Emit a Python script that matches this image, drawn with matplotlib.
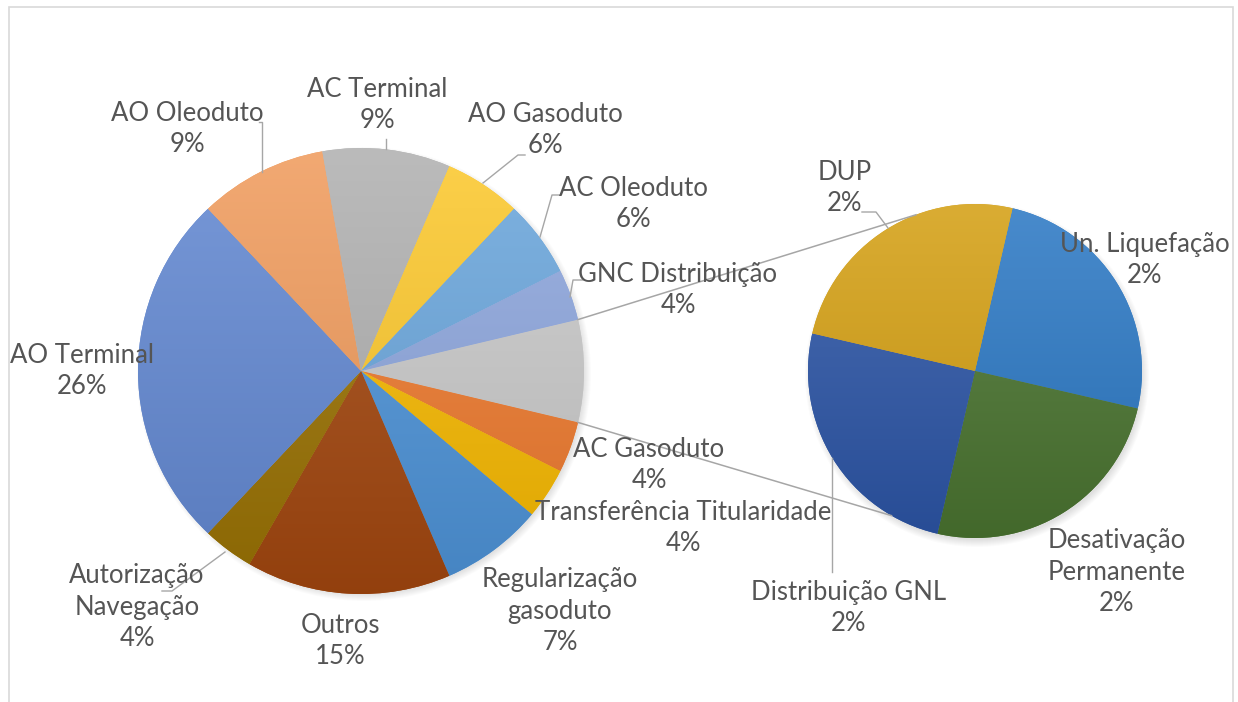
import numpy as np
import matplotlib
matplotlib.use("Agg")
import matplotlib.pyplot as plt
from matplotlib.patches import Circle, Rectangle
from matplotlib.colors import to_rgb

plt.rcParams['font.family'] = ['Lato', 'DejaVu Sans']

# ---------------- data ----------------
# main pie (clockwise from the combined "other" slice)
main_labels = ["Outros (pie 2)", "AC Gasoduto", "Transferência Titularidade",
               "Regularização\ngasoduto", "Outros", "Autorização\nNavegação",
               "AO Terminal", "AO Oleoduto", "AC Terminal", "AO Gasoduto",
               "AC Oleoduto", "GNC Distribuição"]
main_values = [4, 2, 2, 4, 8, 2, 14, 5, 5, 3, 3, 2]
main_colors = ["#C9C9C9", "#EE7A2E", "#F7B900", "#4D93D8", "#A3470F", "#9A7203",
               "#6288D2", "#F09B5C", "#B0B0B0", "#FCC82C", "#6AA6DC", "#8DA6DD"]

# secondary pie (clockwise)
sec_labels = ["Un. Liquefação", "Desativação\nPermanente", "Distribuição GNL", "DUP"]
sec_values = [1, 1, 1, 1]
sec_colors = ["#2B78C4", "#4A7430", "#2C55A6", "#D49F12"]

total = sum(main_values)

W, H = 1238, 702
fig = plt.figure(figsize=(W / 100, H / 100), dpi=100)
ax = fig.add_axes([0, 0, 1, 1])

def Y(y):
    return H - y

TXT = "#555555"
LINE = "#A6A6A6"
FS = 18.5

# frame
ax.add_patch(Rectangle((9, Y(710)), 1224, 703, fill=False, edgecolor="#D9D9D9", lw=1.2, zorder=0))

c1 = (361, Y(371)); r1 = 223
c2 = (975, Y(371)); r2 = 167

# soft shadows
for k in range(8):
    ax.add_patch(Circle((c1[0] + 3, c1[1] - 3), r1 + 4 - k, color="black", alpha=0.014, lw=0, zorder=1))
    ax.add_patch(Circle((c2[0] + 2, c2[1] - 4), r2 + 5 - k, color="black", alpha=0.016, lw=0, zorder=1))

def gradient_fill(wedges, colors, c, r):
    for w, col in zip(wedges, colors):
        base = np.array(to_rgb(col))
        top = base + (1 - base) * 0.14
        bot = base * 0.90
        t = np.linspace(0, 1, 256)[:, None]
        img = top[None, :] * (1 - t) + bot[None, :] * t
        im = ax.imshow(img[:, None, :], extent=(c[0] - r, c[0] + r, c[1] - r, c[1] + r),
                       origin="upper", aspect="auto", interpolation="bilinear", zorder=3)
        im.set_clip_path(w)

w1, _ = ax.pie(main_values, colors=main_colors, startangle=180 * main_values[0] / total,
               counterclock=False, center=c1, radius=r1,
               wedgeprops=dict(linewidth=0, zorder=2))
gradient_fill(w1, main_colors, c1, r1)

w2, _ = ax.pie(sec_values, colors=sec_colors, startangle=77, counterclock=False,
               center=c2, radius=r2, wedgeprops=dict(linewidth=0, zorder=2))
gradient_fill(w2, sec_colors, c2, r2)

# connector lines between the pies
a0 = np.deg2rad(180 * main_values[0] / total)
p_top = (c1[0] + r1 * np.cos(a0), c1[1] + r1 * np.sin(a0))
p_bot = (c1[0] + r1 * np.cos(a0), c1[1] - r1 * np.sin(a0))
q_top = (c2[0] + r2 * np.cos(np.deg2rad(110.7)), c2[1] + r2 * np.sin(np.deg2rad(110.7)))
q_bot = (c2[0] + r2 * np.cos(np.deg2rad(240)), c2[1] + r2 * np.sin(np.deg2rad(240)))
ax.plot([p_top[0], q_top[0]], [p_top[1], q_top[1]], color=LINE, lw=1.1, zorder=5)
ax.plot([p_bot[0], q_bot[0]], [p_bot[1], q_bot[1]], color=LINE, lw=1.1, zorder=5)

# labels
def pct(v):
    return f"{round(100 * v / total)}%"

main_pos = {
    "AC Gasoduto": (649, 465),
    "Transferência Titularidade": (683, 528),
    "Regularização\ngasoduto": (560, 611),
    "Outros": (340, 641),
    "Autorização\nNavegação": (137, 607),
    "AO Terminal": (82, 371),
    "AO Oleoduto": (187, 129),
    "AC Terminal": (377, 105),
    "AO Gasoduto": (545, 130),
    "AC Oleoduto": (633, 204),
    "GNC Distribuição": (678, 290),
}
for lab, v in zip(main_labels, main_values):
    if lab in main_pos:
        x, y = main_pos[lab]
        ax.text(x, Y(y), f"{lab}\n{pct(v)}", ha="center", va="center", fontsize=FS,
                color=TXT, linespacing=1.32, zorder=6)

sec_pos = {
    "Un. Liquefação": (1145, 260),
    "Desativação\nPermanente": (1117, 572),
    "Distribuição GNL": (849, 608),
    "DUP": (845, 188),
}
for lab, v in zip(sec_labels, sec_values):
    x, y = sec_pos[lab]
    ax.text(x, Y(y), f"{lab}\n{pct(v)}", ha="center", va="center", fontsize=FS,
            color=TXT, linespacing=1.32, zorder=6)

# leader lines
leaders = [
    [(259, 122), (262, 122), (262, 172)],
    [(386, 139), (386, 149)],
    [(525, 155), (518, 155), (483, 183)],
    [(560, 195), (552, 195), (540, 237)],
    [(583, 280), (573, 280), (570, 297)],
    [(162, 591), (172, 591), (225, 552)],
    [(862, 212), (876, 212), (888, 228)],
    [(832, 572), (832, 458)],
]
for pts in leaders:
    xs = [p[0] for p in pts]
    ys = [Y(p[1]) for p in pts]
    ax.plot(xs, ys, color=LINE, lw=1.0, zorder=5)

ax.set_xlim(0, W)
ax.set_ylim(0, H)
ax.set_aspect("equal")
ax.axis("off")

fig.savefig("out.png", dpi=100, facecolor="white")
